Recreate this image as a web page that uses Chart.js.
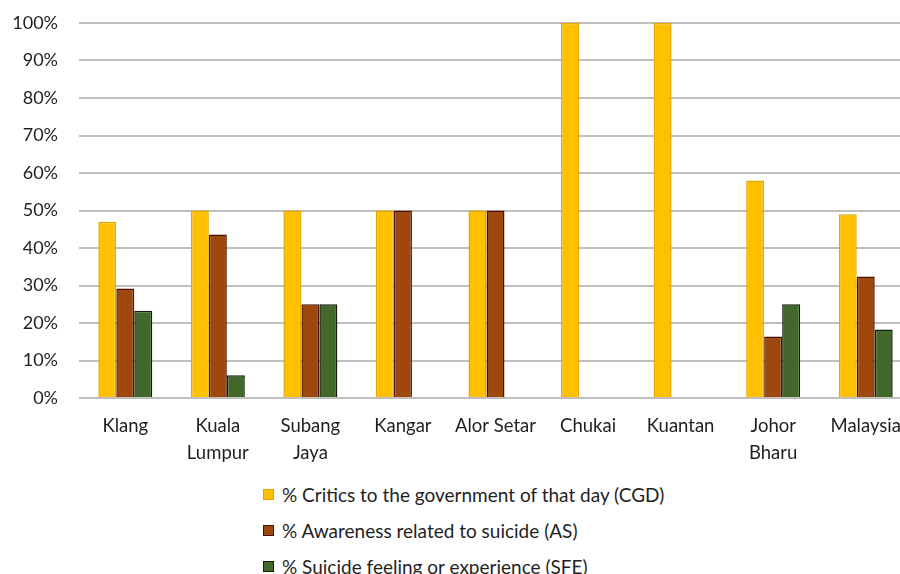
<!DOCTYPE html>
<html>
<head>
<meta charset="utf-8">
<script src="https://cdn.jsdelivr.net/npm/chart.js@4.4.1/dist/chart.umd.min.js"></script>
<style>
  html, body { margin: 0; padding: 0; background: #ffffff; width: 900px; height: 574px; overflow: hidden; }
  #wrap { position: relative; width: 900px; height: 574px; overflow: hidden; }
  #c { position: absolute; left: 0; top: 0; }
  #legend { position: absolute; left: 263px; top: 476px; font-family: Lato, "Open Sans", sans-serif; font-size: 19px; color: #1f1f1f; }
  .item { white-space: nowrap; display: flex; align-items: center; height: 36px; }
  .box { display: inline-block; width: 9px; height: 9px; margin-right: 8px; border: 1px solid; }
</style>
</head>
<body>
<div id="wrap">
  <canvas id="c" width="930" height="470"></canvas>
  <div id="legend"></div>
</div>
<script>
const categories = [["Klang"], ["Kuala", "Lumpur"], ["Subang", "Jaya"], ["Kangar"], ["Alor Setar"], ["Chukai"], ["Kuantan"], ["Johor", "Bharu"], ["Malaysia"]];
const seriesNames = [
  "% Critics to the government of that day (CGD)",
  "% Awareness related to suicide (AS)",
  "% Suicide feeling or experience (SFE)"
];
const cgdValues = [47, 50, 50, 50, 50, 100, 100, 58, 49];
const asValues  = [29.2, 43.6, 25, 50, 50, 0, 0, 16.4, 32.4];
const sfeValues = [23.3, 6.1, 25, 0, 0, 0, 0, 25, 18.3];
const yTicks = [0, 10, 20, 30, 40, 50, 60, 70, 80, 90, 100];

const fills   = ["#FFC000", "#9E480E", "#43682B"];
const borders = ["#E3A600", "#4A1204", "#0F1F08"];

const FONT = "Lato, 'Open Sans', sans-serif";

const chart = new Chart(document.getElementById("c"), {
  type: "bar",
  data: {
    labels: categories,
    datasets: [cgdValues, asValues, sfeValues].map((d, i) => ({
      label: seriesNames[i],
      data: d,
      backgroundColor: fills[i],
      borderColor: borders[i],
      borderWidth: 1.5,
      categoryPercentage: 0.583,
      barPercentage: 1.0
    }))
  },
  options: {
    responsive: false,
    animation: false,
    devicePixelRatio: 1,
    layout: { padding: { left: 0, right: 18, top: 23, bottom: 0 } },
    plugins: {
      legend: { display: false },
      tooltip: { enabled: false }
    },
    scales: {
      x: {
        grid: { display: false, drawTicks: false },
        border: { display: false },
        ticks: {
          color: "#1f1f1f",
          font: { family: FONT, size: 18.5, lineHeight: 1.47 },
          padding: 14,
          maxRotation: 0,
          autoSkip: false
        },
        afterFit: (s) => { s.height = 72; s.paddingTop = 0; s.paddingBottom = 0; s.paddingLeft = 0; s.paddingRight = 0; }
      },
      y: {
        min: 0,
        max: 100,
        afterBuildTicks: (s) => { s.ticks = yTicks.map(v => ({ value: v })); },
        grid: { color: "#BFBFBF", lineWidth: 2, drawTicks: false },
        border: { display: false },
        ticks: {
          color: "#1f1f1f",
          font: { family: FONT, size: 18 },
          padding: 21,
          callback: (v) => v + "%"
        },
        afterFit: (s) => { s.width = 79; s.paddingTop = 0; s.paddingBottom = 0; s.paddingLeft = 0; s.paddingRight = 0; }
      }
    }
  }
});

const legend = document.getElementById("legend");
chart.data.datasets.forEach((ds) => {
  const row = document.createElement("div");
  row.className = "item";
  const box = document.createElement("span");
  box.className = "box";
  box.style.background = ds.backgroundColor;
  box.style.borderColor = ds.borderColor;
  const txt = document.createElement("span");
  txt.textContent = ds.label;
  row.appendChild(box);
  row.appendChild(txt);
  legend.appendChild(row);
});
</script>
</body>
</html>
